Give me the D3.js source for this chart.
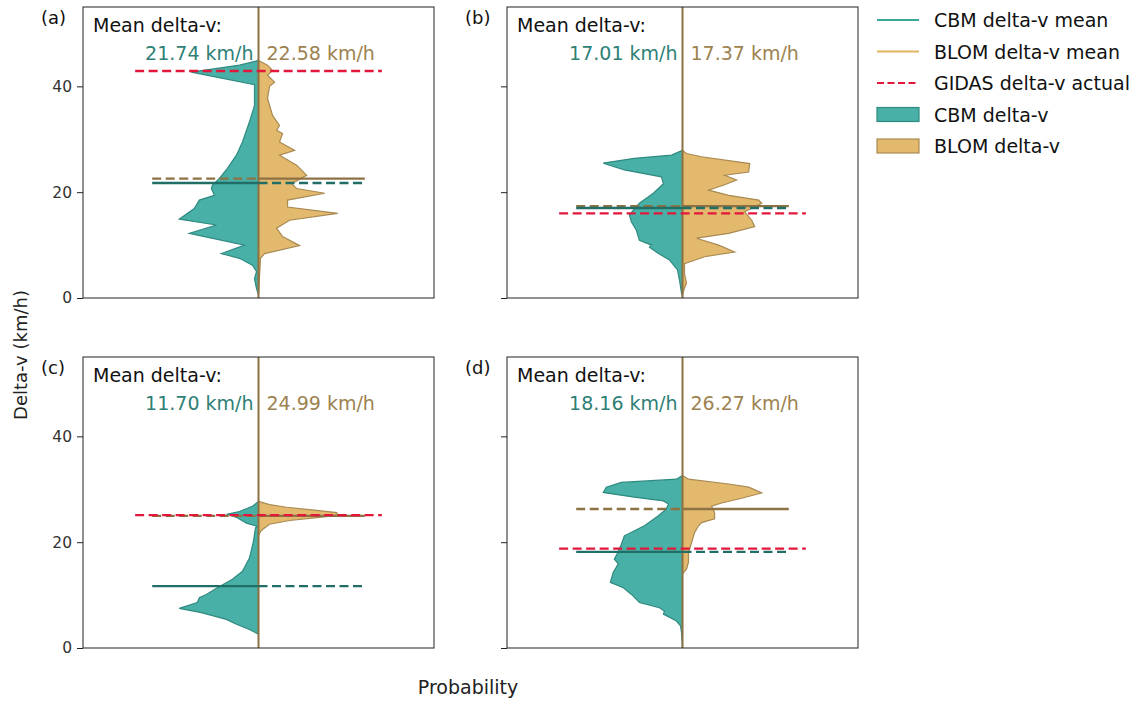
<!DOCTYPE html>
<html>
<head>
<meta charset="utf-8">
<script src="https://cdn.jsdelivr.net/npm/d3@7"></script>
<style>
    body { margin: 0; background: #fff; }
    text { font-family: "DejaVu Sans", sans-serif; }
</style>
</head>
<body>
<svg id="chart" width="1147" height="704"></svg>
<script>
// panel letters, means and GIDAS reference values
const panelLabels = ["(a)", "(b)", "(c)", "(d)"];
const cbmMean = [21.74, 17.01, 11.70, 18.16];
const blomMean = [22.58, 17.37, 24.99, 26.27];
const gidasActual = [42.9, 16.0, 25.1, 18.8];
const yTicks = [0, 20, 40];

// [delta-v, probability] pairs
const cbmA = [[44.9, 0], [44.0, 0.019], [42.7, 0.067], [40.3, 0.004], [36.4, 0.004], [33.3, 0.009], [29.5, 0.016],
    [27.0, 0.022], [24.5, 0.031], [22.6, 0.039], [21.3, 0.046], [20.7, 0.047], [19.4, 0.044], [18.5, 0.059],
    [16.9, 0.064], [14.9, 0.079], [13.8, 0.042], [12.2, 0.069], [10.0, 0.014], [8.4, 0.037], [7.5, 0.019],
    [6.2, 0.006], [5.0, 0.002], [3.7, 0.004], [1.8, 0.002], [0.6, 0]];
const blomA = [[44.9, 0], [44.0, 0.009], [43.0, 0.014], [42.1, 0.009], [40.8, 0.016], [40.0, 0.011], [37.7, 0.009],
    [34.5, 0.014], [32.6, 0.021], [31.7, 0.018], [31.1, 0.024], [29.5, 0.021], [27.9, 0.036], [27.0, 0.021],
    [25.1, 0.038], [23.2, 0.048], [21.6, 0.033], [20.7, 0.038], [19.8, 0.066], [18.5, 0.029], [17.2, 0.029],
    [16.0, 0.079], [14.7, 0.031], [13.2, 0.018], [11.6, 0.024], [9.9, 0.041], [8.4, 0.006], [7.5, 0.002], [0.6, 0]];
const cbmB = [[27.9, 0], [27.0, 0.011], [26.4, 0.048], [25.5, 0.079], [24.2, 0.058], [22.9, 0.021], [21.6, 0.019],
    [19.8, 0.029], [17.9, 0.043], [15.7, 0.053], [14.4, 0.051], [12.8, 0.046], [10.9, 0.043], [10.0, 0.031],
    [9.6, 0.033], [8.4, 0.024], [7.2, 0.013], [5.3, 0.005], [3.4, 0.003], [0.9, 0.001], [0.3, 0]];
const blomB = [[27.9, 0], [27.3, 0.004], [26.7, 0.019], [25.4, 0.067], [23.8, 0.066], [23.2, 0.042], [22.3, 0.054],
    [21.4, 0.042], [20.4, 0.026], [19.4, 0.046], [18.5, 0.076], [17.9, 0.079], [16.3, 0.062], [14.7, 0.069],
    [13.5, 0.072], [12.2, 0.046], [11.3, 0.014], [10.0, 0.036], [8.7, 0.052], [7.8, 0.022], [6.5, 0.002],
    [4.6, 0.002], [2.8, 0.004], [1.9, 0.002], [0.6, 0]];
const cbmC = [[27.7, 0], [26.8, 0.006], [25.8, 0.019], [25.3, 0.031], [24.7, 0.022], [23.6, 0.012], [23.0, 0.001],
    [22.7, 0.003], [20.2, 0.005], [17.0, 0.009], [14.5, 0.016], [13.0, 0.026], [11.4, 0.041], [10.1, 0.052],
    [9.5, 0.059], [8.6, 0.061], [7.5, 0.079], [6.7, 0.057], [5.4, 0.032], [4.5, 0.022], [3.5, 0.009], [2.6, 0]];
const blomC = [[27.7, 0], [27.1, 0.011], [26.6, 0.028], [26.0, 0.058], [25.6, 0.078], [25.1, 0.079], [24.7, 0.061],
    [24.1, 0.031], [23.4, 0.011], [22.4, 0.004], [22.0, 0.002], [21.2, 0]];
const cbmD = [[32.6, 0], [31.9, 0.006], [31.3, 0.061], [30.4, 0.076], [29.4, 0.079], [28.5, 0.048], [27.8, 0.019],
    [27.2, 0.014], [26.3, 0.016], [25.0, 0.024], [23.1, 0.038], [21.2, 0.058], [19.6, 0.061], [18.2, 0.064],
    [16.8, 0.068], [15.9, 0.064], [14.3, 0.069], [12.4, 0.072], [11.4, 0.059], [9.8, 0.049], [8.6, 0.043],
    [7.6, 0.023], [7.0, 0.018], [6.4, 0.019], [5.1, 0.006], [4.2, 0.002], [2.9, 0.001], [0.1, 0]];
const blomD = [[32.6, 0], [31.9, 0.006], [31.0, 0.046], [30.4, 0.066], [29.3, 0.079], [28.3, 0.059], [27.4, 0.039],
    [26.8, 0.029], [25.6, 0.032], [24.4, 0.032], [23.7, 0.019], [23.1, 0.016], [21.8, 0.012], [19.9, 0.009],
    [18.0, 0.006], [16.2, 0.006], [14.9, 0.004], [14.0, 0]];

const cbmProfiles = [cbmA, cbmB, cbmC, cbmD];
const blomProfiles = [blomA, blomB, blomC, blomD];

const cbmFill = "#48b0a6", cbmStroke = "#2f8a80", cbmLine = "#216e67", cbmText = "#2e7f76";
const blomFill = "#e3b96e", blomStroke = "#a88a52", blomLine = "#8d7243", blomText = "#9c8250";
const gidasColor = "#e3163c";
const dash = "9,4.5";

const panelW = 351, panelH = 291;
const lefts = [83, 507], tops = [7, 357];
const meanHalf = 0.106, gidasHalf = 0.123;

const svg = d3.select("#chart");
svg.append("rect").attr("width", 1147).attr("height", 704).attr("fill", "#fff");

const x = d3.scaleLinear().domain([-0.175, 0.175]).range([0, panelW]);
const y = d3.scaleLinear().domain([0, 55]).range([panelH, 0]);

const cbmArea = d3.area()
    .y(d => y(d[0]))
    .x0(x(0))
    .x1(d => x(-d[1]));
const blomArea = d3.area()
    .y(d => y(d[0]))
    .x0(x(0))
    .x1(d => x(d[1]));

function hline(g, v, from, to, color, dashed) {
    g.append("line")
        .attr("x1", x(from)).attr("x2", x(to))
        .attr("y1", y(v)).attr("y2", y(v))
        .attr("stroke", color)
        .attr("stroke-width", 2.3)
        .attr("stroke-dasharray", dashed ? dash : null);
}

panelLabels.forEach(function (label, i) {
    const col = i % 2, row = Math.floor(i / 2);
    const g = svg.append("g")
        .attr("transform", `translate(${lefts[col]},${tops[row]})`);

    // violins
    g.append("path")
        .datum(cbmProfiles[i])
        .attr("d", cbmArea)
        .attr("fill", cbmFill)
        .attr("stroke", cbmStroke)
        .attr("stroke-width", 1.2);
    g.append("path")
        .datum(blomProfiles[i])
        .attr("d", blomArea)
        .attr("fill", blomFill)
        .attr("stroke", blomStroke)
        .attr("stroke-width", 1.2);

    // centre line
    g.append("line")
        .attr("x1", x(0)).attr("x2", x(0))
        .attr("y1", 0).attr("y2", panelH)
        .attr("stroke", blomLine)
        .attr("stroke-width", 2);

    // means: solid on own side, dashed across the other
    hline(g, blomMean[i], -meanHalf, 0, blomLine, true);
    hline(g, blomMean[i], 0, meanHalf, blomLine, false);
    hline(g, cbmMean[i], -meanHalf, 0, cbmLine, false);
    hline(g, cbmMean[i], 0, meanHalf, cbmLine, true);

    // GIDAS actual
    hline(g, gidasActual[i], -gidasHalf, gidasHalf, gidasColor, true);

    // frame + y axis
    g.append("rect")
        .attr("width", panelW).attr("height", panelH)
        .attr("fill", "none")
        .attr("stroke", "#222")
        .attr("stroke-width", 1);

    const axis = d3.axisLeft(y).tickValues(yTicks).tickSize(6).tickPadding(5);
    if (col === 1) axis.tickFormat("");
    const ax = g.append("g").call(axis);
    ax.select(".domain").remove();
    ax.selectAll("line").attr("stroke", "#222");
    ax.selectAll("text")
        .attr("font-size", 15.5)
        .attr("fill", "#333");

    // annotations
    g.append("text")
        .attr("x", 10).attr("y", 25)
        .attr("font-size", 19)
        .attr("fill", "#111")
        .text("Mean delta-v:");
    g.append("text")
        .attr("x", x(0) - 5).attr("y", 53)
        .attr("text-anchor", "end")
        .attr("font-size", 19)
        .attr("fill", cbmText)
        .text(cbmMean[i].toFixed(2) + " km/h");
    g.append("text")
        .attr("x", x(0) + 8).attr("y", 53)
        .attr("font-size", 19)
        .attr("fill", blomText)
        .text(blomMean[i].toFixed(2) + " km/h");

    svg.append("text")
        .attr("x", lefts[col] - 42).attr("y", tops[row] + 17)
        .attr("font-size", 18)
        .attr("fill", "#111")
        .text(label);
});

// axis titles
svg.append("text")
    .attr("x", 468).attr("y", 694)
    .attr("text-anchor", "middle")
    .attr("font-size", 19)
    .attr("fill", "#222")
    .text("Probability");
svg.append("text")
    .attr("transform", "translate(27,355) rotate(-90)")
    .attr("text-anchor", "middle")
    .attr("font-size", 18)
    .attr("fill", "#222")
    .text("Delta-v (km/h)");

// legend
const legendItems = [
    {label: "CBM delta-v mean", kind: "line", color: "#3aa99c"},
    {label: "BLOM delta-v mean", kind: "line", color: "#e0b464"},
    {label: "GIDAS delta-v actual", kind: "dash", color: gidasColor},
    {label: "CBM delta-v", kind: "box", color: cbmFill, stroke: cbmStroke},
    {label: "BLOM delta-v", kind: "box", color: blomFill, stroke: blomStroke}
];
const legend = svg.append("g").attr("transform", "translate(877,20)");
legendItems.forEach(function (d, i) {
    const row = legend.append("g").attr("transform", `translate(0,${i * 31.5})`);
    if (d.kind === "box") {
        row.append("rect")
            .attr("x", 0).attr("y", -7)
            .attr("width", 42).attr("height", 14)
            .attr("fill", d.color)
            .attr("stroke", d.stroke)
            .attr("stroke-width", 1.2);
    } else {
        row.append("line")
            .attr("x1", 0).attr("x2", 42)
            .attr("stroke", d.color)
            .attr("stroke-width", 2)
            .attr("stroke-dasharray", d.kind === "dash" ? "7,3.5" : null);
    }
    row.append("text")
        .attr("x", 57).attr("y", 7)
        .attr("font-size", 19)
        .attr("fill", "#111")
        .text(d.label);
});
</script>
</body>
</html>
